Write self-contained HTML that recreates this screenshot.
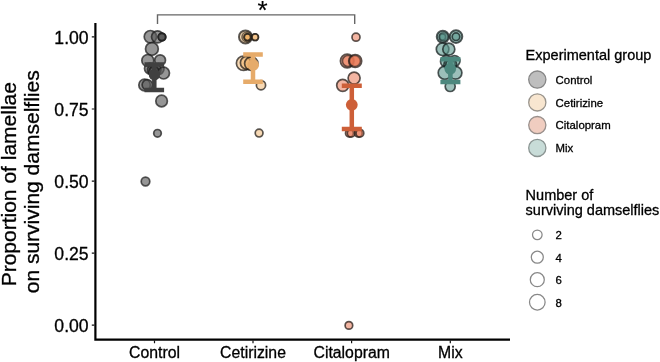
<!DOCTYPE html>
<html>
<head>
<meta charset="utf-8">
<title>Proportion of lamellae on surviving damselflies</title>
<style>
html,body{margin:0;padding:0;background:#fff;}
body{width:660px;height:362px;overflow:hidden;}
svg{display:block;font-family:"Liberation Sans",Arial,sans-serif;}
text{stroke:#000;stroke-width:0.3px;}
.ax{font-size:15.8px;fill:#000;}
.ay{font-size:17.6px;fill:#000;}
.lt{font-size:14.5px;fill:#000;}
.ll{font-size:11.4px;fill:#000;}
.yt{font-size:21px;fill:#000;}
.pc circle{fill:rgba(90,90,90,0.64);stroke:rgba(30,30,30,0.74);stroke-width:1.7;}
.pz circle{fill:rgba(238,170,90,0.45);stroke:rgba(32,28,24,0.74);stroke-width:1.7;}
.pt circle{fill:rgba(233,120,85,0.55);stroke:rgba(36,28,24,0.74);stroke-width:1.7;}
.pm circle{fill:rgba(90,150,140,0.6);stroke:rgba(20,30,30,0.74);stroke-width:1.7;}
</style>
</head>
<body>
<svg width="660" height="362" viewBox="0 0 660 362">
<rect width="660" height="362" fill="#fff"/>

<!-- y axis title -->
<text class="yt" transform="translate(16.4,184.2) rotate(-90)" text-anchor="middle">Proportion of lamellae</text>
<text class="yt" transform="translate(39.1,181.8) rotate(-90)" text-anchor="middle">on surviving damselflies</text>

<!-- y tick labels -->
<g class="ay" text-anchor="end">
<text x="88.6" y="43.9">1.00</text>
<text x="88.6" y="116">0.75</text>
<text x="88.6" y="188.1">0.50</text>
<text x="88.6" y="260.1">0.25</text>
<text x="88.6" y="332.2">0.00</text>
</g>

<!-- x tick labels -->
<g class="ax" text-anchor="middle">
<text x="154.5" y="357.8">Control</text>
<text x="253" y="357.8">Cetirizine</text>
<text x="351.7" y="357.8">Citalopram</text>
<text x="450.4" y="357.8">Mix</text>
</g>

<!-- points: control -->
<g class="pc">
<circle cx="150.4" cy="36.7" r="6.2"/>
<circle cx="157.5" cy="36.8" r="6"/>
<circle cx="162" cy="37" r="3.7"/>
<circle cx="162.2" cy="37" r="3.6"/>
<circle cx="161.8" cy="37" r="3.6"/>
<circle cx="151.9" cy="48.9" r="6.4"/>
<circle cx="147.8" cy="60.5" r="6"/>
<circle cx="160.1" cy="60.2" r="5.4"/>
<circle cx="150" cy="68.5" r="5.5"/>
<circle cx="158.5" cy="69" r="5.5"/>
<circle cx="153" cy="70" r="5.5"/>
<circle cx="155.5" cy="69.5" r="5.5"/>
<circle cx="154" cy="72" r="5.2"/>
<circle cx="163.6" cy="73.1" r="5.9"/>
<circle cx="144.6" cy="85" r="5.8"/>
<circle cx="147.3" cy="84.8" r="5.2"/>
<circle cx="161.6" cy="101" r="5.8"/>
<circle cx="157.5" cy="133.3" r="3.8"/>
<circle cx="145.5" cy="181.5" r="4.3"/>
</g>
<!-- points: cetirizine -->
<g class="pz">
<circle cx="245.5" cy="36.9" r="6.5" style="stroke-width:2"/>
<circle cx="246.9" cy="37" r="4.9" style="stroke:rgba(32,28,24,0.6)"/>
<circle cx="247.3" cy="37.2" r="3.3"/>
<circle cx="247.5" cy="37.2" r="3.3"/>
<circle cx="255" cy="37.2" r="3.3"/>
<circle cx="255.2" cy="37.2" r="3.3"/>
<circle cx="243.6" cy="63.2" r="7.2"/>
<circle cx="247" cy="62.8" r="6.6"/>
<circle cx="251.3" cy="63.6" r="6.7"/>
<circle cx="261" cy="85.2" r="4.6"/>
<circle cx="259.1" cy="133.1" r="3.9"/>
</g>
<!-- points: citalopram -->
<g class="pt">
<circle cx="356" cy="37.2" r="4"/>
<circle cx="347.2" cy="61" r="6.8"/>
<circle cx="347.9" cy="61" r="5.5" style="stroke:rgba(36,28,24,0.65)"/>
<circle cx="355.2" cy="61" r="6.5"/>
<circle cx="354.9" cy="61" r="5.3" style="stroke:rgba(36,28,24,0.65)"/>
<circle cx="355" cy="61" r="5" style="stroke:none"/>
<circle cx="354.1" cy="78.1" r="6"/>
<circle cx="342.7" cy="85.3" r="6"/>
<circle cx="349.4" cy="133.2" r="3.9"/>
<circle cx="351.2" cy="133.2" r="3.9"/>
<circle cx="358.3" cy="133.2" r="3.9"/>
<circle cx="359.9" cy="133.2" r="3.9"/>
<circle cx="348.9" cy="325.4" r="3.8"/>
</g>
<!-- points: mix -->
<g class="pm">
<circle cx="442.8" cy="36.7" r="6" style="stroke-width:2.1"/>
<circle cx="442.6" cy="36.9" r="3.1"/>
<circle cx="443.6" cy="36.8" r="4.4" style="stroke:rgba(20,30,30,0.45)"/>
<circle cx="456" cy="36.6" r="6.3" style="stroke-width:2"/>
<circle cx="456" cy="36.7" r="3.8"/>
<circle cx="442.6" cy="49.2" r="6.3"/>
<circle cx="448.8" cy="49.2" r="6"/>
<circle cx="446.3" cy="61.4" r="5.8"/>
<circle cx="454.6" cy="61" r="5.4"/>
<circle cx="449.5" cy="64.6" r="5.6"/>
<circle cx="451.2" cy="64.3" r="5.4"/>
<circle cx="444.8" cy="72.8" r="6.6"/>
<circle cx="455.5" cy="72.8" r="6.4"/>
<circle cx="450.2" cy="86.5" r="5"/>
</g>

<!-- error bars -->
<g fill="none" stroke-width="4.5" stroke-linecap="butt">
<g stroke="#404040"><path d="M144.5 64.4H164.1M144.5 90H164.1M154.3 64.4V90"/></g>
<g stroke="#E6AB6A"><path d="M243.2 54.5H262.8M243.2 81.7H262.8M253 54.5V81.7"/></g>
<g stroke="#CD5F38"><path d="M341.8 85.7H361.8M341.8 129H361.8M351.8 85.7V129"/></g>
<g stroke="#4C887E"><path d="M440.4 59.3H460.4M440.4 81.9H460.4M450.4 59.3V81.9"/></g>
</g>
<circle cx="154.4" cy="74.6" r="5.7" fill="#404040"/>
<circle cx="253.2" cy="65" r="5.8" fill="#E6AB6A"/>
<circle cx="351.8" cy="104.8" r="5.9" fill="#CD5F38"/>
<circle cx="450.3" cy="69" r="5.8" fill="#4C887E"/>

<!-- significance bracket -->
<path d="M157.5 23.9V14.9H354.7V23.9" fill="none" stroke="#666" stroke-width="1.4"/>
<text x="262.5" y="19.2" text-anchor="middle" font-size="26" fill="#000" style="stroke-width:0.15px">*</text>

<!-- axes -->
<path d="M95.4 22.9V339.6H510" fill="none" stroke="#000" stroke-width="2.2" stroke-linecap="butt" stroke-linejoin="miter"/>
<g stroke="#111" stroke-width="1.2">
<path d="M91.8 36.9H94.4M91.8 109H94.4M91.8 181.1H94.4M91.8 253.2H94.4M91.8 325.2H94.4"/>
<path d="M154.5 340.6V343.3M253 340.6V343.3M351.6 340.6V343.3M450.3 340.6V343.3"/>
</g>

<!-- legend 1 -->
<text class="lt" x="525.6" y="60.2">Experimental group</text>
<g stroke="#868686" stroke-width="1.3">
<circle cx="537.3" cy="79.6" r="8.6" fill="#BEBEBE"/>
<circle cx="537.3" cy="102.4" r="8.6" fill="#F8E6D0" stroke="#99948c"/>
<circle cx="537.3" cy="125.1" r="8.6" fill="#F0CDC0" stroke="#99908c"/>
<circle cx="537.3" cy="147.9" r="8.6" fill="#C8DCD8" stroke="#8a9492"/>
</g>
<g class="ll">
<text x="555.6" y="83.8">Control</text>
<text x="555.6" y="106.6">Cetirizine</text>
<text x="555.6" y="129.3">Citalopram</text>
<text x="555.6" y="152.1">Mix</text>
</g>

<!-- legend 2 -->
<text class="lt" x="525.6" y="199.5">Number of</text>
<text class="lt" x="525.6" y="214.5">surviving damselflies</text>
<g stroke="#888" stroke-width="1.25" fill="#fff">
<circle cx="537.3" cy="234.8" r="4.8"/>
<circle cx="537.3" cy="257.2" r="6"/>
<circle cx="537.3" cy="279.7" r="7"/>
<circle cx="537.3" cy="302.2" r="7.8"/>
</g>
<g class="ll">
<text x="555.6" y="239.1">2</text>
<text x="555.6" y="261.5">4</text>
<text x="555.6" y="284">6</text>
<text x="555.6" y="306.5">8</text>
</g>
</svg>
</body>
</html>
